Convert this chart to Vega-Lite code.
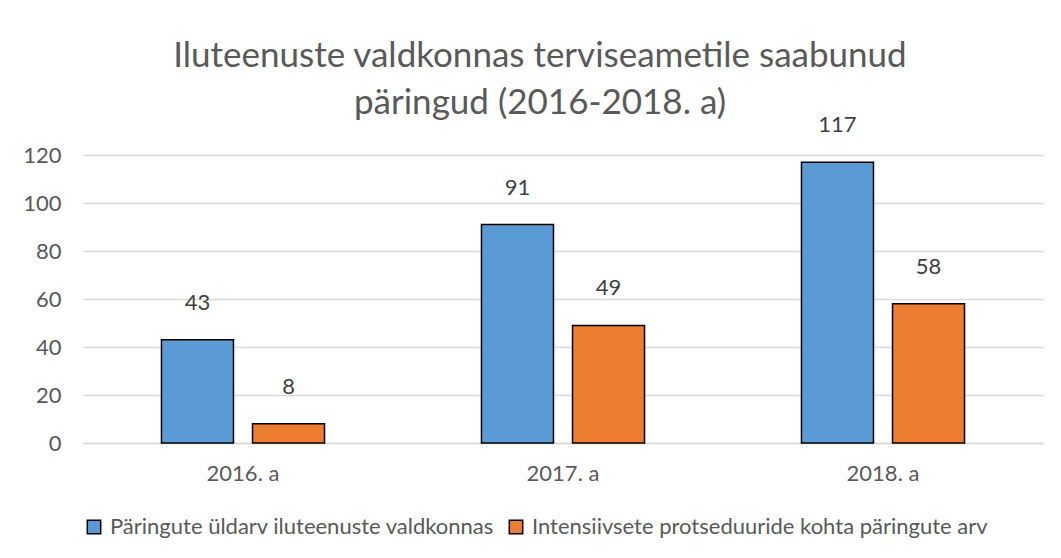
{
  "$schema": "https://vega.github.io/schema/vega-lite/v6.json",
  "width": 960,
  "height": 288,
  "autosize": "none",
  "padding": {"left": 83, "top": 155, "right": 18, "bottom": 115},
  "background": "white",
  "config": {
    "font": "Lato",
    "view": {"stroke": null}
  },
  "title": {
    "text": ["Iluteenuste valdkonnas terviseametile saabunud", "päringud (2016-2018. a)"],
    "fontSize": 35,
    "font": "Lato",
    "fontWeight": "normal",
    "color": "#595959",
    "lineHeight": 47,
    "anchor": "middle",
    "dx": -23,
    "offset": -7
  },
  "data": {
    "values": [
      {"year": "2016. a", "series": "Päringute üldarv iluteenuste valdkonnas", "value": 43},
      {"year": "2016. a", "series": "Intensiivsete protseduuride kohta päringute arv", "value": 8},
      {"year": "2017. a", "series": "Päringute üldarv iluteenuste valdkonnas", "value": 91},
      {"year": "2017. a", "series": "Intensiivsete protseduuride kohta päringute arv", "value": 49},
      {"year": "2018. a", "series": "Päringute üldarv iluteenuste valdkonnas", "value": 117},
      {"year": "2018. a", "series": "Intensiivsete protseduuride kohta päringute arv", "value": 58}
    ]
  },
  "encoding": {
    "x": {
      "field": "year",
      "type": "nominal",
      "scale": {"paddingInner": 0, "paddingOuter": 0},
      "axis": {
        "title": null,
        "labelAngle": 0,
        "labelFontSize": 22,
        "labelColor": "#595959",
        "labelPadding": 20,
        "ticks": false,
        "domainColor": "#d9d9d9",
        "domainWidth": 1.5
      }
    },
    "xOffset": {
      "field": "series",
      "type": "nominal",
      "sort": ["Päringute üldarv iluteenuste valdkonnas", "Intensiivsete protseduuride kohta päringute arv"],
      "scale": {"paddingInner": 0.209, "paddingOuter": 0.862}
    },
    "y": {
      "field": "value",
      "type": "quantitative",
      "scale": {"domain": [0, 120], "nice": false},
      "axis": {
        "title": null,
        "values": [0, 20, 40, 60, 80, 100, 120],
        "labelFontSize": 22,
        "labelColor": "#595959",
        "labelPadding": 22,
        "ticks": false,
        "domain": false,
        "gridColor": "#d9d9d9",
        "gridWidth": 1.5
      }
    }
  },
  "layer": [
    {
      "mark": {"type": "bar", "stroke": "black", "strokeWidth": 1.5},
      "encoding": {
        "color": {
          "field": "series",
          "type": "nominal",
          "scale": {
            "domain": ["Päringute üldarv iluteenuste valdkonnas", "Intensiivsete protseduuride kohta päringute arv"],
            "range": ["#5b9bd5", "#ed7d31"]
          },
          "legend": {
            "title": null,
            "orient": "none",
            "direction": "horizontal",
            "legendX": 0,
            "legendY": 361,
            "symbolType": "square",
            "symbolSize": 180,
            "symbolStrokeColor": "black",
            "symbolStrokeWidth": 1.5,
            "symbolOpacity": 1,
            "labelFontSize": 22,
            "labelColor": "#595959",
            "labelLimit": 0,
            "labelOffset": 5,
            "columnPadding": 10
          }
        }
      }
    },
    {
      "mark": {"type": "text", "fontSize": 22, "color": "#404040", "baseline": "middle", "dy": -37},
      "encoding": {
        "text": {"field": "value", "type": "quantitative"}
      }
    }
  ]
}
